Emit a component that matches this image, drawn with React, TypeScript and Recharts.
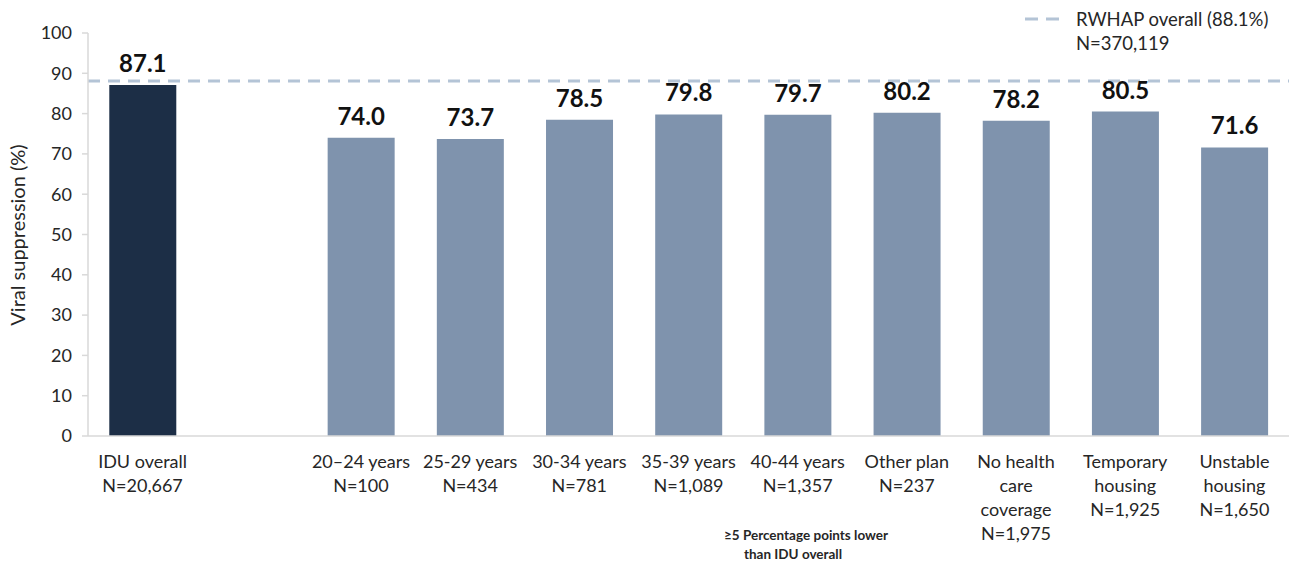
import React from "react";
import { BarChart, Bar, XAxis, YAxis, Cell, LabelList, ReferenceLine } from "recharts";

const categoryLines: string[][] = [
  ["IDU overall"],
  [],
  ["20–24 years"],
  ["25-29 years"],
  ["30-34 years"],
  ["35-39 years"],
  ["40-44 years"],
  ["Other plan"],
  ["No health", "care", "coverage"],
  ["Temporary", "housing"],
  ["Unstable", "housing"],
];
const sampleSizes: string[] = [
  "N=20,667",
  "",
  "N=100",
  "N=434",
  "N=781",
  "N=1,089",
  "N=1,357",
  "N=237",
  "N=1,975",
  "N=1,925",
  "N=1,650",
];
const suppression: (number | null)[] = [87.1, null, 74.0, 73.7, 78.5, 79.8, 79.7, 80.2, 78.2, 80.5, 71.6];
const rwhapOverall = 88.1;
const yTicks = [0, 10, 20, 30, 40, 50, 60, 70, 80, 90, 100];

const FONT = "Lato, 'Open Sans', sans-serif";
const DARK = "#1c2e46";
const LIGHT = "#7f93ad";
const DASH = "#b4c4d6";
const TEXT = "#262626";

const data = categoryLines.map((lines, i) => ({
  key: `c${i}`,
  lines: sampleSizes[i] ? [...lines, sampleSizes[i]] : [],
  value: suppression[i],
}));

const XTick = (props: any) => {
  const { x, y, payload } = props;
  const item = data[payload.index];
  if (!item) return null;
  return (
    <g>
      {item.lines.map((t: string, j: number) => (
        <text key={j} x={x} y={y + 24 + j * 24} textAnchor="middle" fontSize={18} fill={TEXT} fontFamily={FONT}>
          {t}
        </text>
      ))}
    </g>
  );
};

const YLabel = () => (
  <text transform="translate(25,235) rotate(-90)" textAnchor="middle" fontSize={20} fill={TEXT} fontFamily={FONT}>
    Viral suppression (%)
  </text>
);

export default function App() {
  return (
    <div style={{ position: "absolute", left: 0, top: 0, width: 1289, height: 563, background: "#fff", fontFamily: FONT }}>
      <BarChart
        width={1289}
        height={563}
        data={data}
        margin={{ top: 33, right: 0, bottom: 0, left: 0 }}
        barCategoryGap="19.5%"
      >
        <XAxis
          dataKey="key"
          interval={0}
          tickLine={false}
          axisLine={{ stroke: "#d9d9d9", strokeWidth: 1.5 }}
          tick={<XTick />}
          height={127}
        />
        <YAxis
          width={88}
          domain={[0, 100]}
          ticks={yTicks}
          interval={0}
          tickSize={6}
          tickMargin={10}
          axisLine={{ stroke: "#d9d9d9", strokeWidth: 1.5 }}
          tickLine={{ stroke: "#d9d9d9", strokeWidth: 1.5 }}
          tick={{ fontSize: 18, fill: TEXT, fontFamily: FONT }}
          label={<YLabel />}
        />
        <Bar dataKey="value" isAnimationActive={false}>
          {data.map((d, i) => (
            <Cell key={d.key} fill={i === 0 ? DARK : LIGHT} />
          ))}
          <LabelList
            dataKey="value"
            position="top"
            offset={13}
            formatter={(v: any) => (v == null ? "" : Number(v).toFixed(1))}
            style={{ fontSize: 24, fontWeight: 700, fill: "#111", fontFamily: FONT }}
          />
        </Bar>
        <ReferenceLine y={rwhapOverall} stroke={DASH} strokeWidth={3} strokeDasharray="12 8" ifOverflow="extendDomain" />
      </BarChart>
      <svg width={1289} height={563} style={{ position: "absolute", left: 0, top: 0, pointerEvents: "none" }}>
        <line x1={1025} x2={1062} y1={19} y2={19} stroke={DASH} strokeWidth={3} strokeDasharray="13 8" />
        <text x={1076} y={26} fontSize={18.5} fill={TEXT} fontFamily={FONT}>
          RWHAP overall ({rwhapOverall}%)
        </text>
        <text x={1076} y={50} fontSize={18.5} fill={TEXT} fontFamily={FONT}>
          N=370,119
        </text>
        <text x={806} y={540} textAnchor="middle" fontSize={13.5} fontWeight={700} fill={TEXT} fontFamily={FONT}>
          ≥5 Percentage points lower
        </text>
        <text x={793} y={559} textAnchor="middle" fontSize={13.5} fontWeight={700} fill={TEXT} fontFamily={FONT}>
          than IDU overall
        </text>
      </svg>
    </div>
  );
}
